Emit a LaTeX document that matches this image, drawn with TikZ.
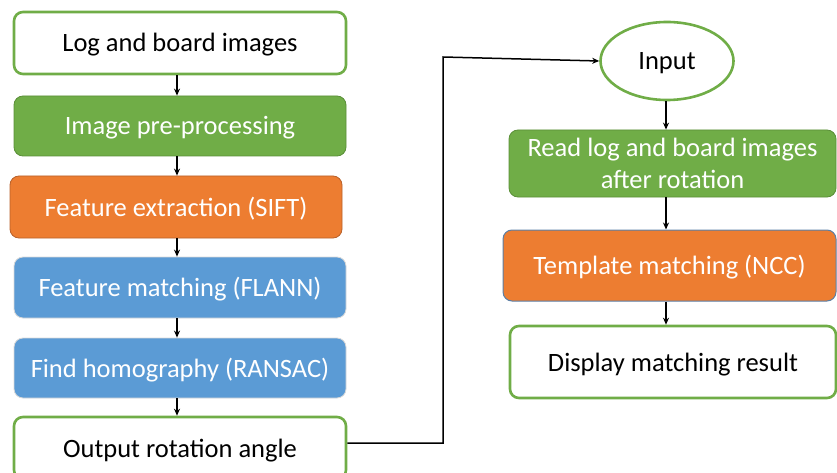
\documentclass[tikz,border=0pt]{standalone}
\usepackage{fontspec}
\setmainfont{Carlito}
\usetikzlibrary{arrows.meta,shapes.geometric}
\definecolor{ogreen}{HTML}{70AD47}
\definecolor{ogreenD}{HTML}{5A8F38}
\definecolor{oorange}{HTML}{ED7D31}
\definecolor{oorangeD}{HTML}{B8612A}
\definecolor{oblue}{HTML}{5B9BD5}
\definecolor{oslate}{HTML}{5B7FA6}
\tikzset{
  base/.style={rectangle, rounded corners=9pt, font=\fontsize{26.5}{32}\selectfont, align=center, inner sep=0pt, text height=18pt, text depth=0pt},
  whitebox/.style={base, draw=ogreen, line width=2.6pt, fill=white, text=black},
  greenbox/.style={base, draw=ogreenD, line width=0.8pt, fill=ogreen, text=white},
  orangebox/.style={base, draw=oorangeD, line width=0.8pt, fill=oorange, text=white},
  orangebox2/.style={base, draw=oslate, line width=1pt, fill=oorange, text=white},
  bluebox/.style={base, draw=white!85!black, line width=0.8pt, fill=oblue, text=white},
  arr/.style={-{Stealth[length=7pt,width=6pt]}, line width=1.5pt, black},
  conn/.style={line width=1.5pt, black}
}
\begin{document}
\begin{tikzpicture}[x=1pt,y=-1pt]
\useasboundingbox (0,0) rectangle (837,473);
\node[whitebox, minimum width=332pt, minimum height=62pt] (n1) at (180,43) {Log and board images};
\node[greenbox, minimum width=332pt, minimum height=60pt] (n2) at (180,126) {Image pre-processing};
\node[orangebox, minimum width=332pt, minimum height=62pt] (n3) at (176,207) {Feature extraction (SIFT)};
\node[bluebox, minimum width=332pt, minimum height=61pt] (n4) at (180,287.5) {Feature matching (FLANN)};
\node[bluebox, minimum width=332pt, minimum height=60pt] (n5) at (180,368) {Find homography (RANSAC)};
\node[whitebox, minimum width=332pt, minimum height=62pt] (n6) at (180,448) {Output rotation angle};

\node[ellipse, draw=ogreen, line width=2.6pt, fill=white, minimum width=133pt, minimum height=78pt, inner sep=0pt, text height=18pt, text depth=0pt, font=\fontsize{26.5}{32}\selectfont] (inp) at (667,61) {Input};
\node[greenbox, minimum width=327pt, minimum height=67pt, text height=50pt] (r1) at (672.5,163.5) {Read log and board images\\after rotation};
\node[orangebox2, minimum width=333pt, minimum height=71pt] (r2) at (669.5,265.5) {Template matching (NCC)};
\node[whitebox, minimum width=326pt, minimum height=72pt] (r3) at (673,362) {Display matching result};

\coordinate (colL) at (177,0);
\coordinate (colR) at (666,0);
\coordinate (c1) at (443,443);
\coordinate (c2) at (443,57);

\draw[arr] (n1.south -| colL) -- (n2.north -| colL);
\draw[arr] (n2.south -| colL) -- (n3.north -| colL);
\draw[arr] (n3.south -| colL) -- (n4.north -| colL);
\draw[arr] (n4.south -| colL) -- (n5.north -| colL);
\draw[arr] (n5.south -| colL) -- (n6.north -| colL);

\draw[conn, -{Stealth[length=7pt,width=6pt]}] (n6.east |- c1) -- (c1) -- (c2) -- (inp.west);

\draw[arr] (inp.south -| colR) -- (r1.north -| colR);
\draw[arr] (r1.south -| colR) -- (r2.north -| colR);
\draw[arr] (r2.south -| colR) -- (r3.north -| colR);
\end{tikzpicture}
\end{document}
